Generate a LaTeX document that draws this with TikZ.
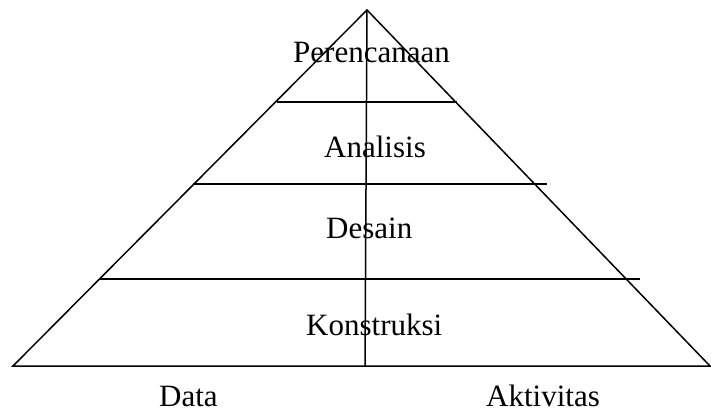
\documentclass[tikz,border=0pt]{standalone}
\usepackage{fontspec}
\setmainfont{Liberation Serif}
\begin{document}
\begin{tikzpicture}[x=1pt,y=-1pt,
  edge/.style={line width=1.5pt,black},
  lbl/.style={anchor=base west,inner sep=0pt,font=\fontsize{31}{36}\selectfont}]
\useasboundingbox (0,0) rectangle (711,410);
\coordinate (apex) at (367,10);
\coordinate (bl) at (13,366);
\coordinate (br) at (710,366);
\coordinate (vb) at (365,366);
\coordinate (a1) at (277,102); \coordinate (b1) at (457,102);
\coordinate (a2) at (193,184); \coordinate (b2) at (547,184);
\coordinate (a3) at (100,279); \coordinate (b3) at (640,279);
\draw[edge] (bl) -- (apex) -- (br) -- cycle;
\draw[edge] (apex) -- (vb);
\draw[edge] (a1) -- (b1);
\draw[edge] (a2) -- (b2);
\draw[edge] (a3) -- (b3);
\node[lbl] (t1) at (293,62) {Perencanaan};
\node[lbl] (t2) at (324,157) {Analisis};
\node[lbl] (t3) at (326,238) {Desain};
\node[lbl] (t4) at (306,335) {Konstruksi};
\node[lbl] (t5) at (159,406) {Data};
\node[lbl] (t6) at (486,406) {Aktivitas};
\end{tikzpicture}
\end{document}
